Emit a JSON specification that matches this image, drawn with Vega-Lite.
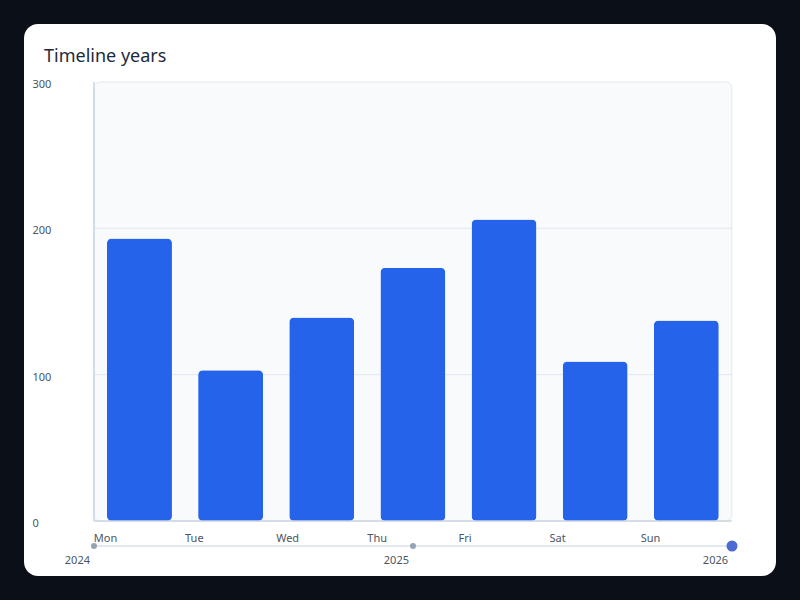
{
  "$schema": "https://vega.github.io/schema/vega-lite/v6.json",
  "autosize": "none",
  "width": 752,
  "height": 552,
  "padding": 24,
  "background": "#0b0f17",
  "config": {
    "view": {"fill": "white", "stroke": null, "cornerRadius": 14},
    "font": "Noto Sans"
  },
  "title": {
    "text": "Timeline years",
    "anchor": "start",
    "frame": "group",
    "dx": 20,
    "offset": -42,
    "fontSize": 18,
    "fontWeight": "normal",
    "color": "#1e293b"
  },
  "resolve": {"scale": {"x": "independent"}},
  "layer": [
    {
      "layer": [
        {
          "data": {"values": [{}]},
          "mark": {"type": "rect", "fill": "#f8fafc", "stroke": "#e2e8f0", "strokeWidth": 1, "cornerRadius": 6},
          "encoding": {
            "x": {"datum": "Mon", "type": "nominal", "bandPosition": -0.2},
            "x2": {"datum": "Sun", "bandPosition": 1.2},
            "y": {"datum": 0, "type": "quantitative"},
            "y2": {"datum": 300}
          }
        },
        {
          "data": {"values": [{"v": 100}, {"v": 200}]},
          "mark": {"type": "rule", "color": "#e2e8f0", "strokeWidth": 1},
          "encoding": {
            "x": {"datum": "Mon", "type": "nominal", "bandPosition": -0.2},
            "x2": {"datum": "Sun", "bandPosition": 1.2},
            "y": {"field": "v", "type": "quantitative"}
          }
        },
        {
          "data": {
            "values": [
              {"day": "Mon", "value": 193},
              {"day": "Tue", "value": 103},
              {"day": "Wed", "value": 139},
              {"day": "Thu", "value": 173},
              {"day": "Fri", "value": 206},
              {"day": "Sat", "value": 109},
              {"day": "Sun", "value": 137}
            ]
          },
          "mark": {"type": "bar", "color": "#2563eb", "cornerRadius": 5},
          "encoding": {
            "x": {
              "field": "day",
              "type": "nominal",
              "sort": null,
              "scale": {
                "domain": ["Mon", "Tue", "Wed", "Thu", "Fri", "Sat", "Sun"],
                "paddingInner": 0.287,
                "paddingOuter": 0.769,
                "align": 0.592
              },
              "axis": {
                "title": null,
                "domain": false,
                "ticks": false,
                "tickSize": 0,
                "labelAngle": 0,
                "labelAlign": "left",
                "labelBaseline": "top",
                "labelOffset": -45.6,
                "labelPadding": 2,
                "offset": -46,
                "labelFontSize": 11,
                "labelColor": "#4b5563"
              }
            },
            "y": {
              "field": "value",
              "type": "quantitative",
              "scale": {"domain": [-37.59, 339.63], "nice": false, "zero": false},
              "axis": {
                "title": null,
                "values": [0, 100, 200, 300],
                "domain": false,
                "ticks": false,
                "tickSize": 0,
                "grid": false,
                "labelAlign": "left",
                "labelBaseline": "middle",
                "labelPadding": -8,
                "labelOffset": 2.5,
                "labelFontSize": 11,
                "labelColor": "#4b5563"
              }
            }
          }
        },
        {
          "data": {"values": [{}]},
          "mark": {"type": "rule", "color": "#cbd5e1", "strokeWidth": 1.5},
          "encoding": {
            "x": {"datum": "Mon", "type": "nominal", "bandPosition": -0.2},
            "y": {"datum": 0, "type": "quantitative"},
            "y2": {"datum": 300}
          }
        },
        {
          "data": {"values": [{}]},
          "mark": {"type": "rule", "color": "#cbd5e1", "strokeWidth": 1.5},
          "encoding": {
            "x": {"datum": "Mon", "type": "nominal", "bandPosition": -0.2},
            "x2": {"datum": "Sun", "bandPosition": 1.2},
            "y": {"datum": 0, "type": "quantitative"}
          }
        }
      ]
    },
    {
      "data": {
        "values": [
          {"year": 2024, "current": "no"},
          {"year": 2025, "current": "no"},
          {"year": 2026, "current": "yes"}
        ]
      },
      "layer": [
        {
          "mark": {"type": "rule", "color": "#e2e8f0", "strokeWidth": 2},
          "encoding": {
            "x": {"aggregate": "min", "field": "year", "type": "quantitative", "scale": {"domain": [2023.7806, 2026.1379], "nice": false, "zero": false}, "axis": null},
            "x2": {"aggregate": "max", "field": "year"},
            "y": {"datum": -17.08, "type": "quantitative"}
          }
        },
        {
          "mark": {"type": "point", "filled": true, "opacity": 1},
          "encoding": {
            "x": {"field": "year", "type": "quantitative", "axis": null},
            "y": {"datum": -17.08, "type": "quantitative"},
            "color": {"field": "current", "type": "nominal", "scale": {"domain": ["no", "yes"], "range": ["#94a3b8", "#4c6ad3"]}, "legend": null},
            "size": {"field": "current", "type": "nominal", "scale": {"domain": ["no", "yes"], "range": [36, 121]}, "legend": null}
          }
        },
        {
          "mark": {"type": "text", "align": "right", "baseline": "middle", "dx": -4, "dy": 15, "fontSize": 11, "color": "#4b5563"},
          "encoding": {
            "x": {"field": "year", "type": "quantitative", "axis": null},
            "y": {"datum": -17.08, "type": "quantitative"},
            "text": {"field": "year", "type": "quantitative", "format": "d"}
          }
        }
      ]
    }
  ]
}
